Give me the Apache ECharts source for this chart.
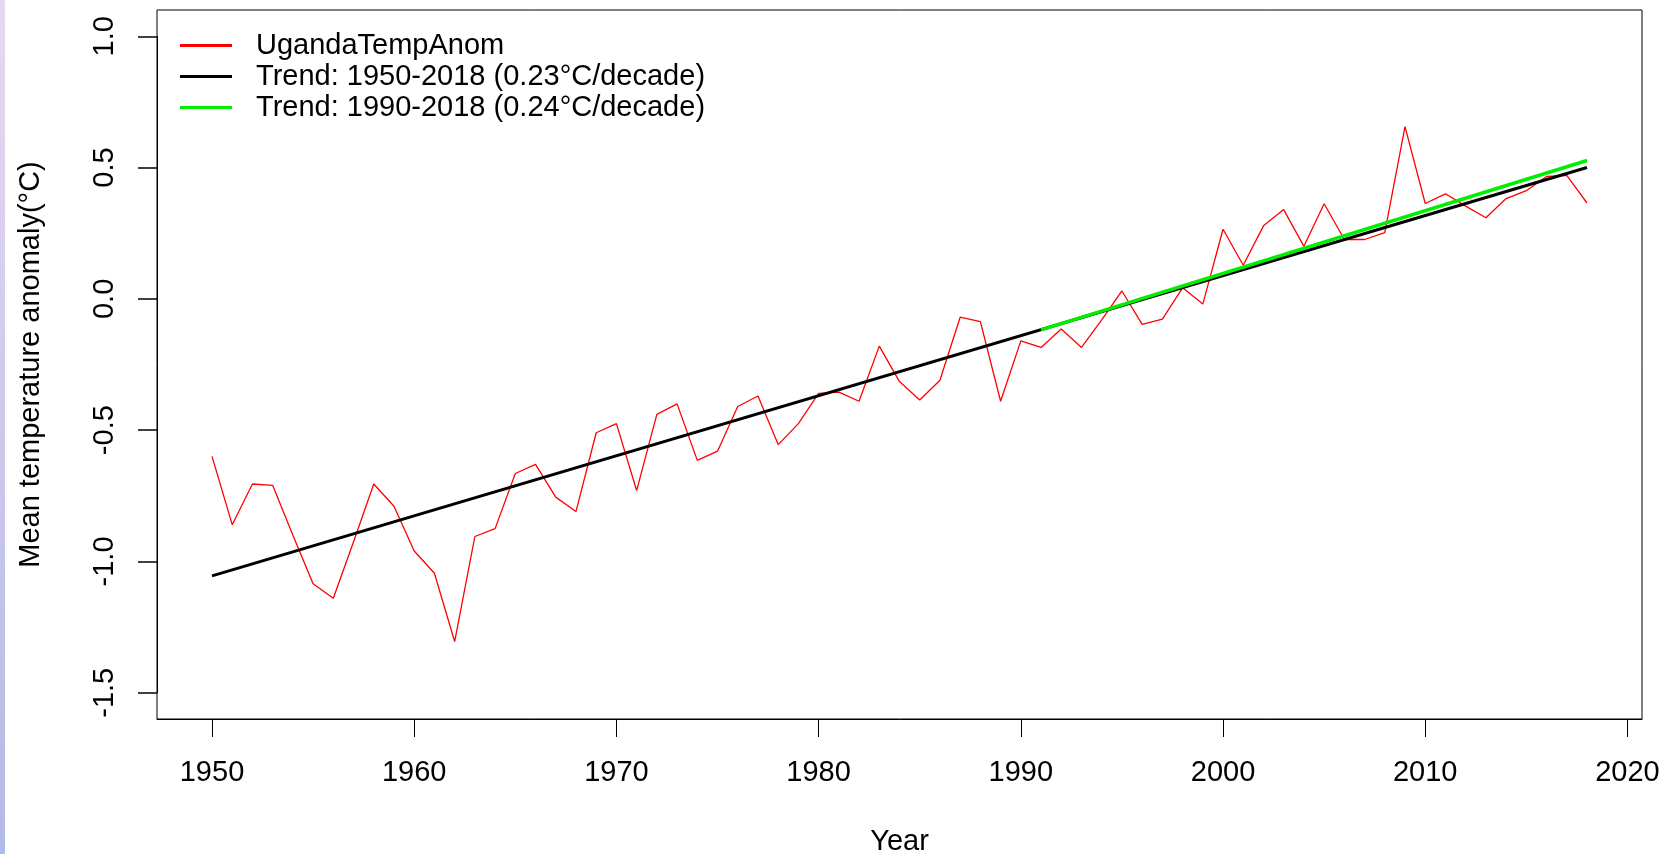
<html>
    <head>
        <meta charset="utf-8">
        <script src="https://cdn.jsdelivr.net/npm/echarts@6.0.0/dist/echarts.min.js"></script>
    </head>
    <body>
        <style>
            html, body, #main {
                width: 100%;
                height: 100%;
                margin: 0;
                background: #fff;
            }
            #strip {
                position: absolute;
                left: 0; top: 0;
                width: 5px; height: 100%;
                background: linear-gradient(#e8d8f0, #b2bae6);
            }
        </style>
        <div id='main'></div>
        <div id='strip'></div>
        <script>
        // annual anomaly
        var years = [];
        for (var y = 1950; y <= 2018; y++) years.push(y);
        var anom = [
            -0.60, -0.86, -0.705, -0.71, -0.90, -1.085, -1.14, -0.925, -0.705, -0.79,
            -0.96, -1.045, -1.305, -0.905, -0.875, -0.665, -0.63, -0.755, -0.81, -0.51,
            -0.475, -0.73, -0.44, -0.40, -0.615, -0.58, -0.41, -0.37, -0.555, -0.475,
            -0.36, -0.355, -0.39, -0.18, -0.315, -0.385, -0.31, -0.07, -0.087, -0.39,
            -0.16, -0.185, -0.115, -0.185, -0.08, 0.03, -0.097, -0.077, 0.042, -0.02,
            0.265, 0.128, 0.278, 0.34, 0.20, 0.362, 0.226, 0.226, 0.252, 0.656,
            0.363, 0.40, 0.353, 0.309, 0.382, 0.412, 0.466, 0.47, 0.365
        ];
        var trendAllYears = [1950, 2018];
        var trendAllVals = [-1.055, 0.50];
        var trendRecentYears = [1991, 2018];
        var trendRecentVals = [-0.118, 0.527];
        var xTicks = [1950, 1960, 1970, 1980, 1990, 2000, 2010, 2020];
        var names = ['UgandaTempAnom', 'Trend: 1950-2018 (0.23°C/decade)', 'Trend: 1990-2018 (0.24°C/decade)'];

        function pairs(xs, vs) {
            var out = [];
            for (var i = 0; i < xs.length; i++) out.push([xs[i], vs[i]]);
            return out;
        }

        // R box spans -1.6..1.1 (709px); the y axis itself runs -1.5..1.0
        var boxTop = 10, boxH = 709, pxPerUnit = boxH / 2.7;
        var pad = 0.1 * pxPerUnit;

        var font = "'Liberation Sans', Arial, sans-serif";
        var chart = echarts.init(document.getElementById('main'));
        var option = {
            animation: false,
            textStyle: {fontFamily: font},
            grid: [{
                left: 157, top: boxTop + pad, width: 1485, height: 2.5 * pxPerUnit,
                outerBoundsMode: 'none'
            }, {
                left: 157, top: boxTop, width: 1485, height: boxH,
                show: true, borderColor: '#000', borderWidth: 1,
                outerBoundsMode: 'none'
            }],
            legend: {
                left: 175, top: 26, orient: 'vertical',
                icon: 'rect', itemWidth: 52, itemHeight: 3, itemGap: 2,
                textStyle: {fontSize: 29, color: '#000', fontFamily: font, lineHeight: 29, padding: [0, 0, 0, 19]},
                data: names
            },
            xAxis: [{
                gridIndex: 0, type: 'value', min: 1947.28, max: 2020.72, offset: pad,
                name: 'Year', nameLocation: 'middle', nameGap: 108,
                nameTextStyle: {fontSize: 29, color: '#000', fontFamily: font},
                splitLine: {show: false},
                axisLine: {show: true, onZero: false, lineStyle: {color: '#000', width: 1}},
                axisTick: {show: true, length: 18, lineStyle: {color: '#000'}, customValues: xTicks},
                axisLabel: {
                    fontSize: 29, color: '#000', margin: 39, customValues: xTicks,
                    formatter: function (v) { return String(v); }
                }
            }, {
                gridIndex: 1, type: 'value', show: false, min: 0, max: 1
            }],
            yAxis: [{
                gridIndex: 0, type: 'value', min: -1.5, max: 1.0, interval: 0.5,
                name: 'Mean temperature anomaly(°C)', nameLocation: 'middle', nameGap: 112, nameRotate: 90,
                nameTextStyle: {fontSize: 29, color: '#000', fontFamily: font},
                splitLine: {show: false},
                axisLine: {show: true, onZero: false, lineStyle: {color: '#000', width: 1}},
                axisTick: {show: true, length: 19, lineStyle: {color: '#111', width: 1.6}},
                axisLabel: {
                    fontSize: 29, color: '#000', margin: 38, rotate: 90,
                    showMinLabel: true, showMaxLabel: true,
                    formatter: function (v) { return v.toFixed(1); }
                }
            }, {
                gridIndex: 1, type: 'value', show: false, min: 0, max: 1
            }],
            series: [
                {name: names[0], type: 'line', symbol: 'none', color: '#ff0000', clip: false,
                 lineStyle: {width: 1.3, color: '#ff0000'}, data: pairs(years, anom)},
                {name: names[1], type: 'line', symbol: 'none', color: '#000000', clip: false,
                 lineStyle: {width: 3, color: '#000000'}, data: pairs(trendAllYears, trendAllVals)},
                {name: names[2], type: 'line', symbol: 'none', color: '#00ee00', clip: false,
                 lineStyle: {width: 3.5, color: '#00ee00'}, data: pairs(trendRecentYears, trendRecentVals)}
            ]
        };
        chart.setOption(option);
        window.onresize = chart.resize;
        </script>
    </body>
</html>
